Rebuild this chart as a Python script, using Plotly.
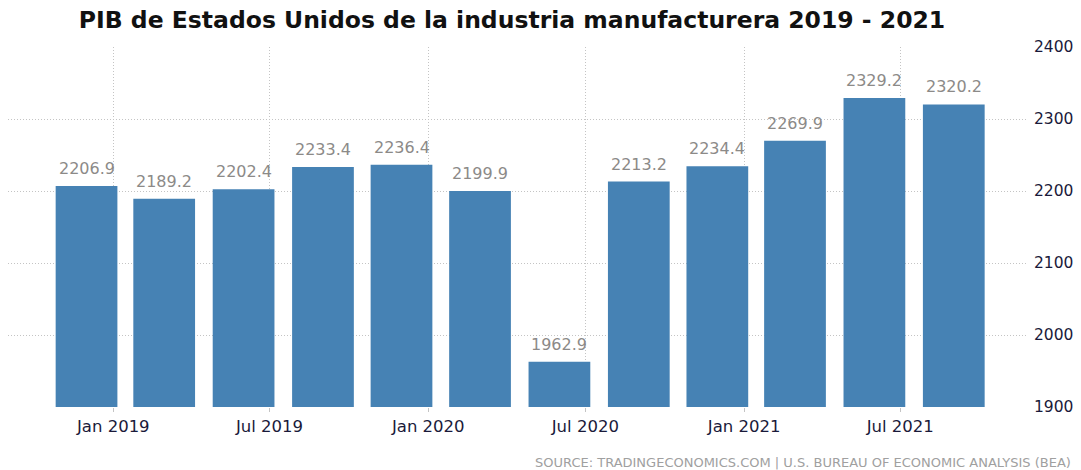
import plotly.graph_objects as go

quarters = ["2018-12-01", "2019-03-01", "2019-06-01", "2019-09-01", "2019-12-01", "2020-03-01",
            "2020-06-01", "2020-09-01", "2020-12-01", "2021-03-01", "2021-06-01", "2021-09-01"]
values = [2206.9, 2189.2, 2202.4, 2233.4, 2236.4, 2199.9, 1962.9, 2213.2, 2234.4, 2269.9, 2329.2, 2320.2]
labels = [f"{v:.1f}" for v in values]
title = "PIB de Estados Unidos de la industria manufacturera 2019 - 2021"
source = "SOURCE: TRADINGECONOMICS.COM | U.S. BUREAU OF ECONOMIC ANALYSIS (BEA)"

fig = go.Figure(go.Bar(
    x=quarters, y=values,
    marker=dict(color="#4682b4", line=dict(width=0)),
    hovertemplate="%{x}: %{y}<extra></extra>",
))

annotations = [
    dict(x=q, y=v, text=t, xref="x", yref="y", showarrow=False, yanchor="bottom",
         yshift=6, font=dict(family="DejaVu Sans", size=16, color="#8c8a88"))
    for q, v, t in zip(quarters, values, labels)
]
annotations.append(dict(text=source, xref="paper", yref="paper", x=1.0, y=-0.153,
                        xanchor="right", yanchor="middle", showarrow=False, xshift=45,
                        font=dict(family="DejaVu Sans", size=13, color="#a0a0a0")))

fig.update_layout(
    width=1081, height=470,
    margin=dict(l=8, r=50, t=47, b=63),
    paper_bgcolor="white", plot_bgcolor="white",
    bargap=0.205,
    showlegend=False,
    title=dict(text=f"<b>{title}</b>", x=512 / 1081, xanchor="center", y=1 - 20 / 470, yanchor="middle",
               font=dict(family="DejaVu Sans", size=23.5, color="#111111")),
    xaxis=dict(type="date", range=["2018-09-01", "2021-11-26"], tick0="2019-01-01", dtick="M6",
               tickformat="%b %Y", showgrid=True, gridcolor="#c4c4c4", griddash="1px,2px",
               ticks="outside", ticklen=4, tickcolor="#c4c4c4",
               tickfont=dict(family="DejaVu Sans", size=16.5, color="#1a1a3a"),
               showline=False, zeroline=False),
    yaxis=dict(range=[1900, 2400], dtick=100, side="right", showgrid=True, gridcolor="#c4c4c4",
               griddash="1px,2px", tickfont=dict(family="DejaVu Sans", size=15.5, color="#1a1a3a"),
               ticks="", ticklabelstandoff=5, zeroline=False, showline=False),
    annotations=annotations,
)
fig.write_html("out.html")
